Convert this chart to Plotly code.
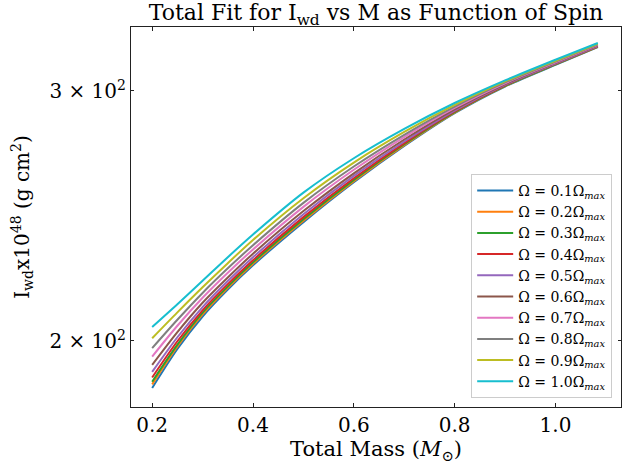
import plotly.graph_objects as go

mass = [0.2, 0.25, 0.3, 0.35, 0.4, 0.5, 0.6, 0.7, 0.8, 0.9, 1.0, 1.084]

omega_labels = ["0.1", "0.2", "0.3", "0.4", "0.5", "0.6", "0.7", "0.8", "0.9", "1.0"]

I_w01 = [185.3, 197.4, 208.1, 217.4, 226.1, 242.5, 258.7, 274.4, 289.4, 302.2, 313.0, 322.2]
I_w02 = [186.4, 198.2, 208.8, 218.0, 226.7, 243.1, 259.2, 274.8, 289.7, 302.4, 313.2, 322.3]
I_w03 = [187.2, 198.8, 209.4, 218.5, 227.2, 243.7, 259.7, 275.2, 289.9, 302.5, 313.3, 322.4]
I_w04 = [188.5, 199.9, 210.2, 219.3, 228.0, 244.5, 260.4, 275.7, 290.2, 302.8, 313.5, 322.6]
I_w05 = [190.2, 201.2, 211.3, 220.4, 229.1, 245.6, 261.4, 276.4, 290.6, 303.0, 313.7, 322.7]
I_w06 = [192.4, 202.9, 212.8, 221.7, 230.4, 246.9, 262.5, 277.3, 291.2, 303.4, 314.0, 323.0]
I_w07 = [195.0, 205.0, 214.5, 223.4, 232.0, 248.6, 264.0, 278.4, 291.9, 303.8, 314.3, 323.3]
I_w08 = [197.7, 207.0, 216.2, 225.0, 233.6, 250.2, 265.4, 279.4, 292.5, 304.2, 314.7, 323.6]
I_w09 = [200.9, 209.5, 218.2, 226.9, 235.6, 252.1, 267.1, 280.7, 293.3, 304.7, 315.1, 323.9]
I_w10 = [204.6, 212.3, 220.5, 229.1, 237.7, 254.4, 269.0, 282.1, 294.2, 305.2, 315.6, 324.3]

series = [I_w01, I_w02, I_w03, I_w04, I_w05, I_w06, I_w07, I_w08, I_w09, I_w10]

x_ticks = [0.2, 0.4, 0.6, 0.8, 1.0]
x_ticktext = ["0.2", "0.4", "0.6", "0.8", "1.0"]
y_ticks = [200, 300]
y_ticktext = ["2 × 10<sup>2</sup>", "3 × 10<sup>2</sup>"]

colors = ["#1f77b4", "#ff7f0e", "#2ca02c", "#d62728", "#9467bd",
          "#8c564b", "#e377c2", "#7f7f7f", "#bcbd22", "#17becf"]

FONT = "DejaVu Serif, Liberation Serif, serif"

fig = go.Figure()
for lab, ys, c in zip(omega_labels, series, colors):
    fig.add_trace(go.Scatter(
        x=mass, y=ys, mode="lines",
        line=dict(color=c, width=2, shape="spline", smoothing=0.8),
        name="Ω = " + lab + "Ω<sub><i>max</i></sub>",
    ))

fig.update_layout(
    width=643, height=472,
    margin=dict(l=131, r=22, t=27, b=65),
    paper_bgcolor="white", plot_bgcolor="white",
    font=dict(family=FONT, color="black", size=18),
    title=dict(text="Total Fit for I<sub>wd</sub> vs M as Function of Spin",
               x=0.5, xref="paper", xanchor="center",
               y=0.99, yref="container", yanchor="top",
               font=dict(family=FONT, size=22, color="black")),
    showlegend=True,
    legend=dict(x=0.982, y=0.024, xanchor="right", yanchor="bottom",
                bgcolor="rgba(255,255,255,0.9)", bordercolor="#cccccc", borderwidth=1,
                font=dict(family=FONT, size=14, color="black"),
                tracegroupgap=0, itemwidth=36),
)

fig.update_xaxes(
    range=[0.158, 1.13], tickvals=x_ticks, ticktext=x_ticktext,
    showline=True, linecolor="#222222", linewidth=1, mirror="ticks",
    ticks="inside", ticklen=4, tickcolor="#222222", showgrid=False, zeroline=False,
    tickfont=dict(family=FONT, size=20),
    title=dict(text="Total Mass (<i>M</i><sub>⊙</sub>)", font=dict(family=FONT, size=21), standoff=5),
)
fig.update_yaxes(
    type="log", range=[2.2545, 2.5222], tickvals=y_ticks, ticktext=y_ticktext,
    showline=True, linecolor="#222222", linewidth=1, mirror="ticks",
    ticks="inside", ticklen=3, tickcolor="#222222", showgrid=False, zeroline=False,
    tickfont=dict(family=FONT, size=20),
    title=dict(text="I<sub>wd</sub>x10<sup>48</sup> (g cm<sup>2</sup>)", font=dict(family=FONT, size=20), standoff=14),
)

# remove the page's default 8px body margin so the figure fills the window
fig.write_html("out.html", config={"displayModeBar": False},
               post_script="document.body.style.margin='0';")
